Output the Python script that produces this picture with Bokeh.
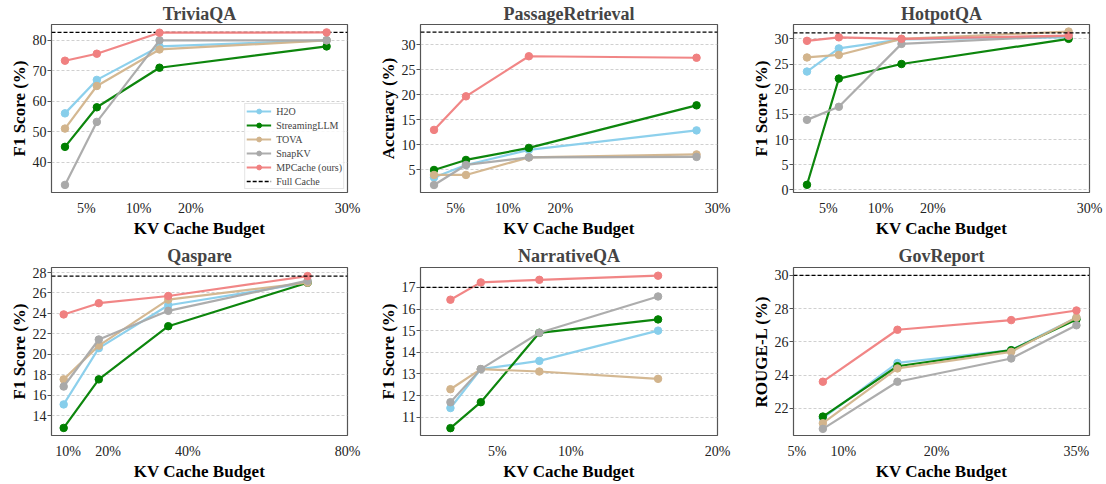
from bokeh.plotting import figure
from bokeh.layouts import row, column
from bokeh.models import FixedTicker, Span, Range1d
from bokeh.embed import file_html
from bokeh.resources import INLINE

methods = ["H2O", "StreamingLLM", "TOVA", "SnapKV", "MPCache (ours)"]
colors = ["#87CEEB", "#008000", "#D2B48C", "#A9A9A9", "#F08080"]

# x positions of the four budgets on each panel's axis
x_trivia = [2.95, 6.0, 12.0, 28.0]
x_passage = [2.95, 6.0, 12.0, 28.0]
x_hotpot = [2.95, 6.0, 12.0, 28.0]
x_qaspare = [8.9, 17.7, 35.1, 70.0]
x_narrative = [1.8, 3.87, 7.86, 15.95]
x_gov = [7.8, 15.8, 28.0, 35.0]

# scores per method (H2O, StreamingLLM, TOVA, SnapKV, MPCache)
trivia_vals = [[56, 67, 78, 80], [45, 58, 71, 78], [51, 65, 77, 80],
               [32.5, 53.2, 80, 80], [73.3, 75.6, 82.5, 82.6]]
passage_vals = [[3.5, 6, 9, 12.9], [5, 7, 9.4, 17.9], [4, 4, 7.5, 8.1],
                [2, 6, 7.5, 7.6], [13, 19.7, 27.7, 27.4]]
hotpot_vals = [[23.5, 28.1, 29.9, 30.3], [1.0, 22.1, 25.0, 30.0], [26.3, 26.8, 30.0, 31.45],
               [13.9, 16.5, 29.0, 30.6], [29.6, 30.3, 30.0, 30.65]]
qaspare_vals = [[15.1, 20.6, 24.8, 27.0], [12.8, 17.55, 22.75, 27.0], [17.55, 20.85, 25.35, 27.0],
                [16.85, 21.45, 24.25, 27.2], [23.9, 25.0, 25.7, 27.65]]
narrative_vals = [[11.42, 13.22, 13.6, 15.0], [10.49, 11.69, 14.9, 15.52], [12.29, 13.22, 13.11, 12.77],
                  [11.69, 13.22, 14.9, 16.58], [16.43, 17.23, 17.35, 17.54]]
gov_vals = [[21.4, 24.73, 25.5, 27.45], [21.5, 24.53, 25.5, 27.35], [21.1, 24.4, 25.4, 27.47],
            [20.76, 23.6, 25.0, 27.0], [23.6, 26.73, 27.31, 27.89]]

full_cache = {"TriviaQA": 82.6, "PassageRetrieval": 32.5, "HotpotQA": 31.2,
              "Qaspare": 27.65, "NarrativeQA": 17.0, "GovReport": 30.0}

xtick_top = [5, 10, 15, 30]
xtick_top_labels = ["5%", "10%", "20%", "30%"]
xtick_qaspare = [10, 20, 40, 80]
xtick_qaspare_labels = ["10%", "20%", "40%", "80%"]
xtick_narr = [5, 10, 20]
xtick_narr_labels = ["5%", "10%", "20%"]
xtick_gov = [5, 10, 20, 35]
xtick_gov_labels = ["5%", "10%", "20%", "35%"]

SERIF = "Liberation Serif"


def panel(title, ylabel, xs, vals, xr, yr, xticks, xlabels, yticks, full,
          width, height, bl, br, bt, bb, tstand, legend=False):
    p = figure(width=width, height=height, output_backend="svg", toolbar_location=None,
               x_range=Range1d(*xr), y_range=Range1d(*yr),
               min_border_left=bl, min_border_right=br, min_border_top=bt, min_border_bottom=bb)
    p.title.text = title
    p.title.align = "center"
    p.title.text_font = SERIF
    p.title.text_font_style = "bold"
    p.title.text_font_size = "18px"
    p.title.standoff = tstand
    p.background_fill_color = "white"
    p.border_fill_color = "white"
    p.outline_line_color = "#555555"
    p.outline_line_width = 1.2

    p.xaxis.ticker = FixedTicker(ticks=xticks)
    p.xaxis.major_label_overrides = {t: l for t, l in zip(xticks, xlabels)}
    p.yaxis.ticker = FixedTicker(ticks=yticks)
    for ax in (p.xaxis, p.yaxis):
        ax.axis_line_color = None
        ax.major_tick_in = 0
        ax.minor_tick_out = 0
        ax.minor_tick_in = 0
        ax.major_label_text_font = SERIF
        ax.major_label_text_font_size = "14px"
        ax.major_label_text_color = "#222222"
        ax.axis_label_text_font = SERIF
        ax.axis_label_text_font_style = "bold"
        ax.axis_label_text_font_size = "17px"
        ax.axis_label_text_color = "black"
    p.xaxis.major_tick_out = 0
    p.yaxis.major_tick_out = 4
    p.yaxis.major_tick_line_color = "#555555"
    p.xaxis.axis_label = "KV Cache Budget"
    p.yaxis.axis_label = ylabel
    p.xaxis.major_label_standoff = 8
    p.xaxis.axis_label_standoff = 0
    p.yaxis.major_label_standoff = 1
    p.yaxis.axis_label_standoff = 1

    p.xgrid.grid_line_color = None
    p.ygrid.grid_line_color = "#c4c4c4"
    p.ygrid.grid_line_dash = "3 2"
    p.ygrid.grid_line_width = 0.8

    if legend:
        # full-cache reference drawn as a line spanning the x range so it can be labelled
        p.line([xr[0], xr[1]], [full, full], line_color="black", line_dash="4 2",
               line_width=1.3, legend_label="Full Cache")
    else:
        p.add_layout(Span(location=full, dimension="width", line_color="black",
                          line_dash="4 2", line_width=1.3))

    for m, c, v in zip(methods, colors, vals):
        kw = {"legend_label": m} if legend else {}
        p.line(xs, v, line_color=c, line_width=2.2, line_alpha=0.95, **kw)
        p.scatter(xs, v, size=7.5, fill_color=c, line_color=c, **kw)

    if legend:
        lg = p.legend[0]
        items = list(lg.items)
        lg.items = items[1:] + items[:1]
        lg.location = "bottom_right"
        lg.margin = 3
        lg.padding = 1
        lg.spacing = 2
        lg.label_height = 12
        lg.glyph_height = 12
        lg.glyph_width = 25
        lg.label_standoff = 5
        lg.label_text_font = SERIF
        lg.label_text_font_size = "10px"
        lg.border_line_color = "#cccccc"
        lg.background_fill_alpha = 0.85
    return p


top_h, bot_h = 241, 243
p1 = panel("TriviaQA", "F1 Score (%)", x_trivia, trivia_vals, (1.66, 30), (30, 85.2),
           xtick_top, xtick_top_labels, [40, 50, 60, 70, 80], full_cache["TriviaQA"],
           369, top_h, 51, 22, 24, 49, 2, legend=True)
p2 = panel("PassageRetrieval", "Accuracy (%)", x_passage, passage_vals, (1.66, 30), (0.5, 34.04),
           xtick_top, xtick_top_labels, [5, 10, 15, 20, 25, 30], full_cache["PassageRetrieval"],
           373, top_h, 51, 25, 24, 49, 2)
p3 = panel("HotpotQA", "F1 Score (%)", x_hotpot, hotpot_vals, (1.66, 30), (-0.53, 32.85),
           xtick_top, xtick_top_labels, [0, 5, 10, 15, 20, 25, 30], full_cache["HotpotQA"],
           363, top_h, 51, 16, 24, 49, 2)
p4 = panel("Qaspare", "F1 Score (%)", x_qaspare, qaspare_vals, (5.85, 80), (12.06, 28.49),
           xtick_qaspare, xtick_qaspare_labels, [14, 16, 18, 20, 22, 24, 26, 28], full_cache["Qaspare"],
           369, bot_h, 51, 22, 26, 49, 4)
p5 = panel("NarrativeQA", "F1 Score (%)", x_narrative, narrative_vals, (-0.24, 20), (10.15, 17.92),
           xtick_narr, xtick_narr_labels, [11, 12, 13, 14, 15, 16, 17], full_cache["NarrativeQA"],
           373, bot_h, 51, 25, 26, 49, 4)
p6 = panel("GovReport", "ROUGE-L (%)", x_gov, gov_vals, (4.65, 36.4), (20.36, 30.48),
           xtick_gov, xtick_gov_labels, [22, 24, 26, 28, 30], full_cache["GovReport"],
           363, bot_h, 51, 16, 26, 49, 4)

layout = column(row(p1, p2, p3), row(p4, p5, p6))
open("out.html", "w").write(file_html(layout, INLINE))
